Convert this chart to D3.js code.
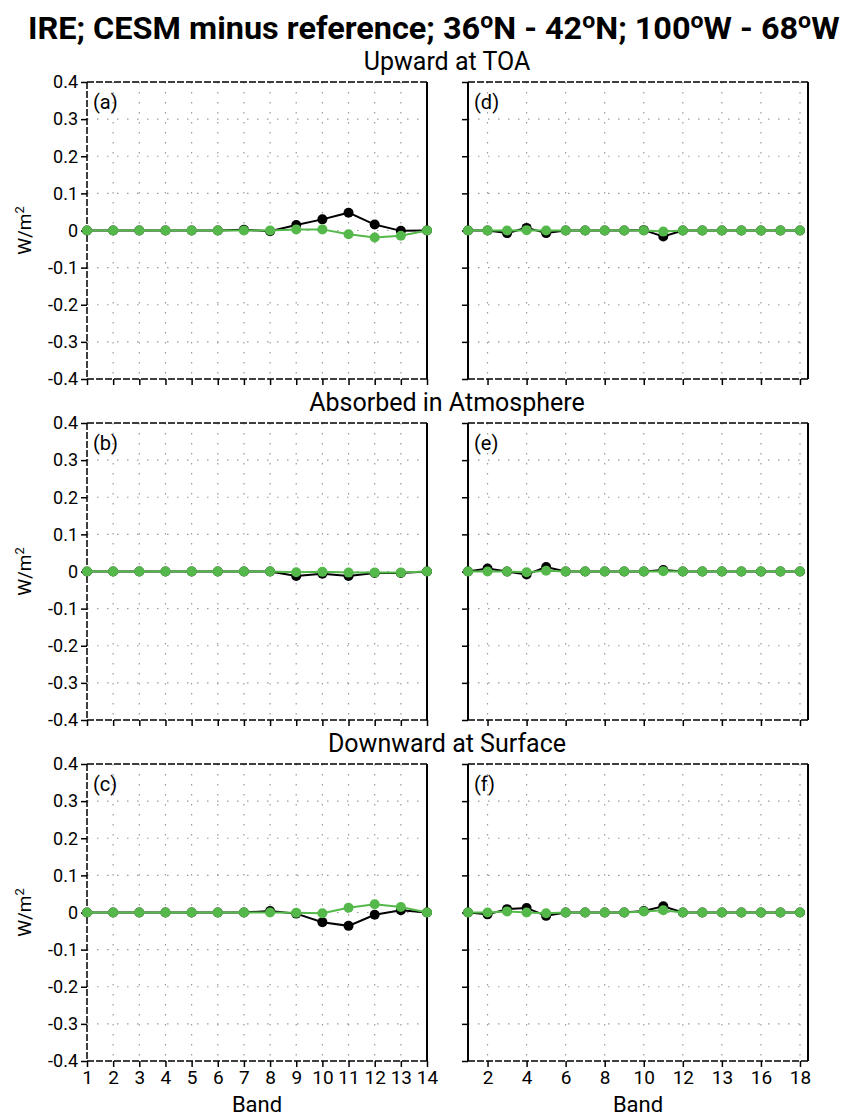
<!DOCTYPE html>
<html><head><meta charset="utf-8">
<script src="https://cdn.jsdelivr.net/npm/d3@7"></script>
<style>
body{margin:0;background:#fff;}
text{font-family:Roboto,"Open Sans",sans-serif;fill:#000;}
</style></head><body>
<svg id="c" width="854" height="1120"></svg>
<script>
// ---- data ----
const bandsLeft = d3.range(1, 15);   // 14 bands
const bandsRight = d3.range(1, 19);  // 18 bands
const yTicks = [0.4,0.3,0.2,0.1,0,-0.1,-0.2,-0.3,-0.4];
const yTickLabels = ["0.4","0.3","0.2","0.1","0","-0.1","-0.2","-0.3","-0.4"];
const xTicksLeft = d3.range(1, 15);
const xTickLabelsLeft = ["1","2","3","4","5","6","7","8","9","10","11","12","13","14"];
const xTicksRight = [2,4,6,8,10,12,14,16,18];
const xTickLabelsRight = ["2","4","6","8","10","12","13","16","18"];
const rowTitles = ["Upward at TOA","Absorbed in Atmosphere","Downward at Surface"];
const panelLetters = [["(a)","(d)"],["(b)","(e)"],["(c)","(f)"]];

const aBlack = [0,0,0,0,0,0,0.002,-0.002,0.015,0.030,0.048,0.016,-0.001,0];
const aGreen = [0,0,0,0,0,0,0,0,0.003,0.003,-0.010,-0.019,-0.014,0];
const bBlack = [0,0,0,0,0,0,0,0,-0.012,-0.006,-0.012,-0.004,-0.004,0];
const bGreen = [0,0,0,0,0,0,0,0,-0.002,-0.001,-0.003,-0.003,-0.003,0];
const cBlack = [0,0,0,0,0,0,0,0.004,-0.003,-0.026,-0.036,-0.006,0.006,0];
const cGreen = [0,0,0,0,0,0,0,0,-0.001,-0.002,0.013,0.022,0.015,0];
const dBlack = [0,0,-0.007,0.007,-0.007,0,0,0,0,0.001,-0.016,0,0,0,0,0,0,0];
const dGreen = [0,0,0,0.001,0,0,0,0,0,0,-0.003,0,0,0,0,0,0,0];
const eBlack = [0,0.008,0,-0.008,0.012,0,0,0,0,0,0.004,0,0,0,0,0,0,0];
const eGreen = [0,0,0,-0.002,0.002,0,0,0,0,0,0.001,0,0,0,0,0,0,0];
const fBlack = [0,-0.005,0.009,0.012,-0.009,0,0,0,0,0.004,0.017,0,0,0,0,0,0,0];
const fGreen = [0,0,0.003,0,-0.002,0,0,0,0,0.003,0.006,0,0,0,0,0,0,0];

const leftSeries = [[aBlack,aGreen],[bBlack,bGreen],[cBlack,cGreen]];
const rightSeries = [[dBlack,dGreen],[eBlack,eGreen],[fBlack,fGreen]];

// ---- layout ----
const svg = d3.select("#c");
const GREEN = "#55b84a";
const FONT = 'Roboto,"Open Sans",sans-serif';
const tops = [82, 423, 764];
const H = 297;
const cols = [{x0:87,x1:427,dom:[1,14],bands:bandsLeft,xt:xTicksLeft,xl:xTickLabelsLeft,grid:d3.range(2,14),left:true},
              {x0:468,x1:808,dom:[1,18.41],bands:bandsRight,xt:xTicksRight,xl:xTickLabelsRight,grid:d3.range(2,19,2),left:false}];

const tg = svg.append("g");
const title = tg.append("text").attr("x",0).attr("y",0).attr("text-anchor","start")
  .attr("font-size",31).attr("font-weight","bold")
  .html('IRE; CESM minus reference; 36<tspan dy="-11" font-size="22">o</tspan><tspan dy="11">N - 42</tspan><tspan dy="-11" font-size="22">o</tspan><tspan dy="11">N; 100</tspan><tspan dy="-11" font-size="22">o</tspan><tspan dy="11">W - 68</tspan><tspan dy="-11" font-size="22">o</tspan><tspan dy="11">W</tspan>');
const tw = title.node().getBBox().width || 812;
tg.attr("transform",`translate(28,39) scale(${812/tw},1)`);

rowTitles.forEach((t,i)=>{
  svg.append("text").attr("x",447).attr("y",tops[i]-12).attr("text-anchor","middle")
    .attr("font-size",25).text(t);
});

for (let r=0;r<3;r++){
  const y = d3.scaleLinear().domain([-0.4,0.4]).range([tops[r]+H, tops[r]]);
  cols.forEach((c,ci)=>{
    const x = d3.scaleLinear().domain(c.dom).range([c.x0,c.x1]);
    const g = svg.append("g");
    g.selectAll(".gv").data(c.grid).enter().append("line")
      .attr("x1",d=>x(d)).attr("x2",d=>x(d)).attr("y1",tops[r]).attr("y2",tops[r]+H)
      .attr("stroke","#9a9a9a").attr("stroke-width",1.2).attr("stroke-dasharray","1.5,8.5");
    g.selectAll(".gh").data(yTicks.filter(v=>Math.abs(v)<0.4)).enter().append("line")
      .attr("x1",c.x0).attr("x2",c.x1).attr("y1",d=>y(d)).attr("y2",d=>y(d))
      .attr("stroke","#9a9a9a").attr("stroke-width",1.2).attr("stroke-dasharray","1.5,8.5");
    const ya = d3.axisLeft(y).tickValues(yTicks).tickSize(6).tickPadding(3)
      .tickFormat((d,i)=> c.left ? yTickLabels[i] : "");
    const yg = g.append("g").attr("transform",`translate(${c.x0},0)`).call(ya);
    yg.select(".domain").remove();
    yg.selectAll("line").attr("stroke-width",1.5);
    yg.selectAll("text").attr("font-size",18).style("font-family",FONT);
    const xa = d3.axisBottom(x).tickValues(c.xt).tickSize(6).tickPadding(4)
      .tickFormat((d,i)=> r===2 ? c.xl[i] : "");
    const xg = g.append("g").attr("transform",`translate(0,${tops[r]+H})`).call(xa);
    xg.select(".domain").remove();
    xg.selectAll("line").attr("stroke-width",1.5);
    xg.selectAll("text").attr("font-size",19).style("font-family",FONT);
    const dash = "7,2";
    g.append("line").attr("x1",c.x0).attr("x2",c.x1).attr("y1",tops[r]).attr("y2",tops[r])
      .attr("stroke","#000").attr("stroke-width",1.5).attr("stroke-dasharray",dash);
    g.append("line").attr("x1",c.x0).attr("x2",c.x1).attr("y1",tops[r]+H).attr("y2",tops[r]+H)
      .attr("stroke","#000").attr("stroke-width",1.5).attr("stroke-dasharray",dash);
    g.append("line").attr("x1",c.x0).attr("x2",c.x0).attr("y1",tops[r]).attr("y2",tops[r]+H)
      .attr("stroke","#000").attr("stroke-width",c.left?1.5:2).attr("stroke-dasharray",c.left?dash:null);
    g.append("line").attr("x1",c.x1).attr("x2",c.x1).attr("y1",tops[r]).attr("y2",tops[r]+H)
      .attr("stroke","#000").attr("stroke-width",2);
    g.append("text").attr("x",c.x0+6).attr("y",tops[r]+27).attr("font-size",20).text(panelLetters[r][ci]);
    const series = c.left ? leftSeries[r] : rightSeries[r];
    const line = d3.line().x((d,i)=>x(c.bands[i])).y(d=>y(d));
    [[series[0],"#000"],[series[1],GREEN]].forEach(([vals,col])=>{
      g.append("path").datum(vals).attr("d",line).attr("fill","none")
        .attr("stroke",col).attr("stroke-width",2);
      g.selectAll(null).data(vals).enter().append("circle")
        .attr("cx",(d,i)=>x(c.bands[i])).attr("cy",d=>y(d)).attr("r",5).attr("fill",col);
    });
  });
  svg.append("text").attr("transform",`translate(31,${tops[r]+H/2}) rotate(-90)`)
    .attr("text-anchor","middle").attr("font-size",19)
    .html('W/m<tspan dy="-7" font-size="13">2</tspan>');
}
svg.append("text").attr("x",257).attr("y",1112).attr("text-anchor","middle").attr("font-size",22).text("Band");
svg.append("text").attr("x",638).attr("y",1112).attr("text-anchor","middle").attr("font-size",22).text("Band");
</script></body></html>
